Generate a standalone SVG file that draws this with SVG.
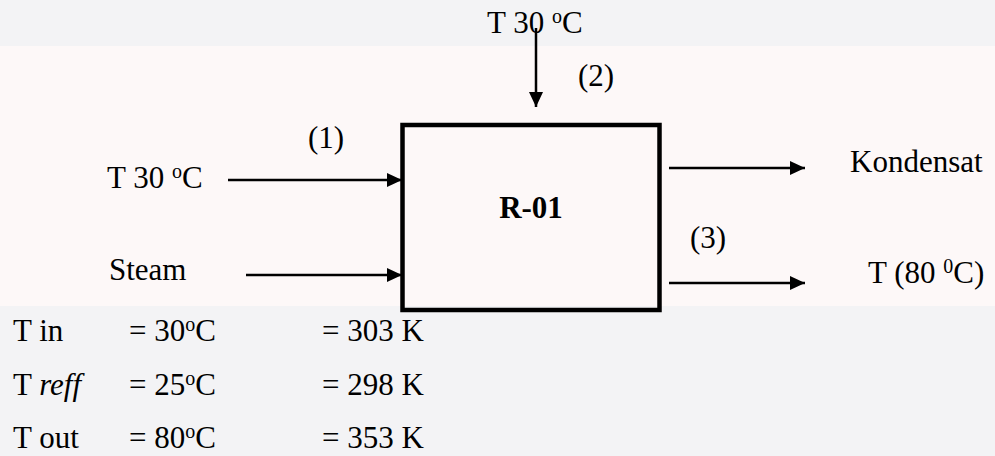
<svg xmlns="http://www.w3.org/2000/svg" width="995" height="456" viewBox="0 0 995 456">
  <style>
    text { font-family: "Liberation Serif", "Times New Roman", serif; font-size: 31px; fill: #000; }
    .b { font-weight: bold; }
    .i { font-style: italic; }
    .sup { font-size: 20px; }
    .line { stroke: #000; stroke-width: 2.5; fill: none; }
    .box { stroke: #000; stroke-width: 4.5; fill: none; }
  </style>
  <defs>
    <marker id="arr" markerUnits="userSpaceOnUse" markerWidth="16" markerHeight="16" viewBox="0 0 16 16" refX="15" refY="8" orient="auto">
      <path d="M0,1 L15,8 L0,15 Z" fill="#000"/>
    </marker>
  </defs>
  <rect x="0" y="0" width="995" height="456" fill="#f3f3f5"/>
  <rect x="0" y="46" width="995" height="260" fill="#fdf8f8"/>

  <g id="connectors">
    <line class="line" x1="536" y1="28" x2="536" y2="107" marker-end="url(#arr)"/>
    <line class="line" x1="228" y1="180" x2="402" y2="180" marker-end="url(#arr)"/>
    <line class="line" x1="246" y1="275" x2="402" y2="275" marker-end="url(#arr)"/>
    <line class="line" x1="669" y1="168" x2="805" y2="168" marker-end="url(#arr)"/>
    <line class="line" x1="669" y1="283" x2="805" y2="283" marker-end="url(#arr)"/>
  </g>

  <g id="R-01">
    <rect class="box" x="402.5" y="125" width="257" height="185"/>
    <text class="b" x="531" y="218" text-anchor="middle">R-01</text>
  </g>

  <g id="feed-top">
    <text x="487" y="33">T 30 <tspan class="sup" dy="-10">o</tspan><tspan dy="10">C</tspan></text>
    <text x="578" y="86">(2)</text>
  </g>

  <g id="feed-left">
    <text x="107" y="188">T 30 <tspan class="sup" dy="-10">o</tspan><tspan dy="10">C</tspan></text>
    <text x="308" y="148">(1)</text>
  </g>

  <g id="steam">
    <text x="109" y="280">Steam</text>
  </g>

  <g id="kondensat">
    <text x="850" y="172">Kondensat</text>
  </g>

  <g id="product">
    <text x="690" y="248">(3)</text>
    <text x="868" y="283">T (80 <tspan class="sup" dy="-10">0</tspan><tspan dy="10">C)</tspan></text>
  </g>

  <g id="data">
    <text x="13" y="341">T in</text>
    <text x="129" y="341">= 30<tspan class="sup" dy="-10">o</tspan><tspan dy="10">C</tspan></text>
    <text x="322" y="341">= 303 K</text>
    <text x="13" y="395">T <tspan class="i">reff</tspan></text>
    <text x="129" y="395">= 25<tspan class="sup" dy="-10">o</tspan><tspan dy="10">C</tspan></text>
    <text x="322" y="395">= 298 K</text>
    <text x="13" y="448">T out</text>
    <text x="129" y="448">= 80<tspan class="sup" dy="-10">o</tspan><tspan dy="10">C</tspan></text>
    <text x="322" y="448">= 353 K</text>
  </g>
</svg>
